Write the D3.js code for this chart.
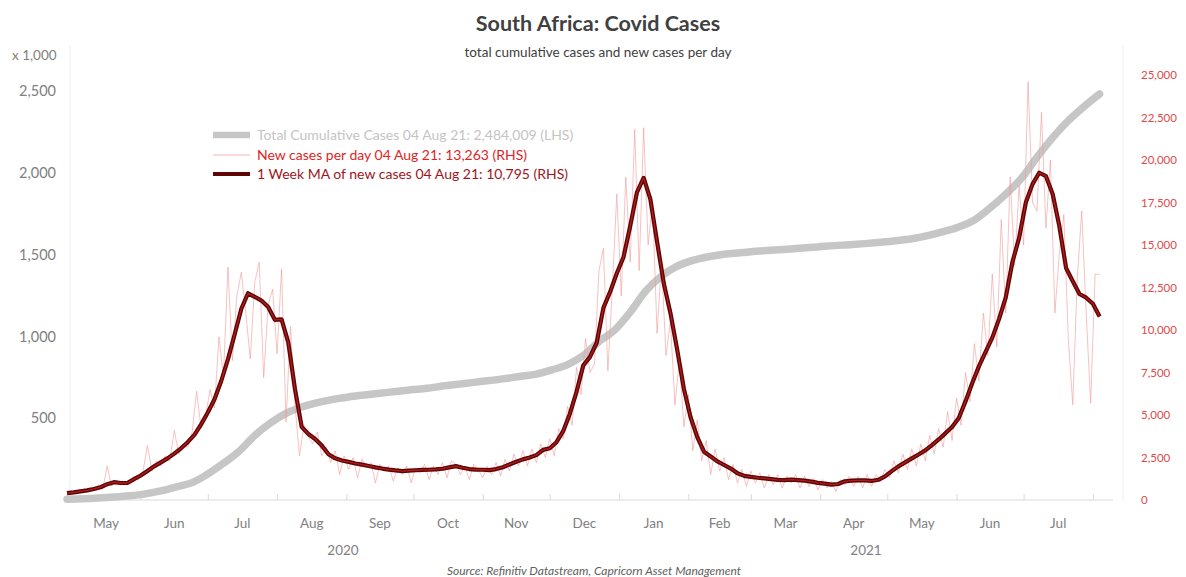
<!DOCTYPE html>
<html>
<head>
<meta charset="utf-8">
<script src="https://cdn.jsdelivr.net/npm/d3@7"></script>
<style>
  html, body { margin: 0; padding: 0; background: #ffffff; }
  svg { display: block; font-family: Lato, "Open Sans", sans-serif; }
</style>
</head>
<body>
<svg id="chart" width="1186" height="577"></svg>
<script>
// ---- data -------------------------------------------------------------
const startDate = new Date(2020, 3, 29);   // first observation
const endDate = new Date(2021, 7, 4);      // last observation

// Total cumulative cases (thousands), one value per week
const cumulativeStepDays = 7;
const cumulativeCases = [
  5.0, 7.6, 12.1, 18.0, 25.9, 37.5, 55.4, 80.4, 106.1, 159.3,
  224.7, 298.3, 394.9, 471.1, 529.9, 568.9, 596.1, 615.7, 630.5, 642.4,
  653.4, 663.3, 674.3, 683.2, 697.0, 708.4, 719.7, 730.5, 742.4, 757.1,
  769.8, 796.5, 828.6, 883.7, 968.6, 1039.2, 1149.6, 1279.3, 1369.4, 1430.2,
  1466.0, 1488.2, 1503.1, 1512.2, 1521.1, 1528.5, 1533.9, 1541.4, 1548.2, 1556.2,
  1561.6, 1568.4, 1576.5, 1586.0, 1598.2, 1617.0, 1641.6, 1670.8, 1713.4, 1786.6,
  1870.7, 1967.5, 2096.3, 2216.5, 2320.4, 2407.0, 2484.009
];

// New cases per day, sampled every second day
const newCasesStepDays = 2;
const newCases = [
  350, 480, 420, 600, 500, 700, 560, 900, 650, 2000,
  800, 1150, 900, 1100, 1000, 1400, 1200, 1700, 3200, 1700,
  2300, 2000, 2600, 2300, 4100, 2700, 3200, 3100, 4000, 6400,
  4200, 4900, 6500, 5400, 9600, 7200, 13700, 8200, 12000, 13400,
  11000, 8300, 12800, 14000, 7200, 11500, 12400, 8600, 13600, 4600,
  10200, 5600, 2600, 4400, 3700, 3300, 4000, 2600, 3100, 2200,
  2900, 1500, 2600, 1800, 2500, 1300, 2400, 1900, 2200, 1000,
  2100, 1700, 2000, 1100, 1900, 1500, 2000, 1000, 1900, 1600,
  2100, 1200, 2000, 1500, 2200, 1300, 2300, 2100, 1500, 2000,
  1200, 2100, 1800, 1300, 2000, 1500, 2200, 1400, 2400, 1700,
  2700, 2000, 2900, 2000, 3000, 2200, 3300, 2500, 3600, 2600,
  4200, 3600, 5500, 4400, 7800, 6200, 9500, 7500, 8000, 13500,
  14800, 7600, 12500, 18000, 12000, 19000, 14000, 21800, 13500, 21900,
  15000, 17500, 9800, 14000, 8500, 10500, 5600, 8200, 4300, 6200,
  2900, 4700, 2300, 3500, 1500, 3000, 1700, 2500, 1200, 2100,
  1000, 1800, 800, 1700, 1000, 1600, 700, 1500, 900, 1500,
  700, 1400, 1000, 1500, 700, 1400, 800, 1300, 600, 1200,
  700, 1100, 500, 1200, 900, 1400, 800, 1400, 700, 1500,
  800, 1500, 1100, 1800, 1300, 2300, 1600, 2700, 1800, 3000,
  2000, 3300, 2300, 3800, 2700, 4200, 3100, 5200, 3500, 6000,
  4400, 7500, 5800, 9200, 7000, 11000, 8500, 13300, 9000, 16500,
  11000, 19000, 13800, 18500, 15000, 24600, 17500, 17000, 22800, 16000,
  20000, 11000, 14500, 16800, 9500, 5600, 13000, 17000, 11000, 5700,
  13300, 13263
];

// 1 week moving average of new cases, sampled every third day
const maStepDays = 3;
const weeklyAverage = [
  400, 450, 510, 565, 650, 750, 930, 1050, 1000, 1000,
  1230, 1440, 1710, 1980, 2210, 2450, 2730, 3040, 3400, 3830,
  4450, 5150, 5930, 7000, 8270, 9740, 11250, 12160, 11950, 11730,
  11350, 10600, 10620, 9270, 6520, 4300, 3880, 3590, 3200, 2690,
  2450, 2320, 2240, 2150, 2080, 2000, 1920, 1850, 1790, 1740,
  1700, 1730, 1750, 1770, 1780, 1800, 1840, 1920, 1990, 1900,
  1820, 1790, 1780, 1760, 1820, 1930, 2090, 2250, 2390, 2500,
  2640, 2950, 3040, 3400, 4050, 5080, 6380, 7920, 8420, 9250,
  11300, 12240, 13340, 14290, 16120, 18100, 18950, 17700, 15200, 12750,
  10990, 8840, 6550, 4870, 3700, 2840, 2560, 2270, 2060, 1850,
  1570, 1420, 1360, 1310, 1270, 1230, 1180, 1170, 1200, 1170,
  1140, 1080, 1010, 960, 900, 940, 1100, 1140, 1160, 1150,
  1120, 1190, 1390, 1700, 1980, 2210, 2450, 2680, 2920, 3230,
  3560, 3920, 4300, 4820, 5800, 6870, 7860, 8720, 9550, 10640,
  11900, 14000, 15420, 17500, 18580, 19250, 19050, 18000, 16100, 13650,
  12870, 12120, 11900, 11540, 10795
];

// Axis ticks
const leftTicks = [500, 1000, 1500, 2000, 2500];
const rightTicks = [0, 2500, 5000, 7500, 10000, 12500, 15000, 17500, 20000, 22500, 25000];
const monthNames = ["Jan","Feb","Mar","Apr","May","Jun","Jul","Aug","Sep","Oct","Nov","Dec"];
const years = [2020, 2021];

// Text
const titleText = "South Africa: Covid Cases";
const subtitleText = "total cumulative cases and new cases per day";
const legendLabels = [
  "Total Cumulative Cases 04 Aug 21: 2,484,009 (LHS)",
  "New cases per day 04 Aug 21: 13,263 (RHS)",
  "1 Week MA of new cases 04 Aug 21: 10,795 (RHS)"
];
const sourceText = "Source: Refinitiv Datastream, Capricorn Asset Management";

// ---- layout -----------------------------------------------------------
const svg = d3.select("#chart");
const plotLeft = 67, plotRight = 1113, plotTop = 75, plotBottom = 500;

const x = d3.scaleTime()
  .domain([startDate, new Date(2021, 7, 10)])
  .range([plotLeft, plotRight]);
const yLeft = d3.scaleLinear().domain([0, 2600]).range([plotBottom, plotTop]);
const yRight = d3.scaleLinear().domain([0, 25000]).range([plotBottom, plotTop]);

const dateAt = step => (v, i) => ({ date: d3.timeDay.offset(startDate, i * step), value: v });
const cumData = cumulativeCases.map(dateAt(cumulativeStepDays));
const newData = newCases.map(dateAt(newCasesStepDays));
const maData = weeklyAverage.map(dateAt(maStepDays));

// ---- frame ------------------------------------------------------------
const frame = svg.append("g");
frame.append("line")
  .attr("x1", 70).attr("x2", 70).attr("y1", 45).attr("y2", plotBottom)
  .attr("stroke", "#eeeeee").attr("stroke-width", 1);
frame.append("line")
  .attr("x1", 1123).attr("x2", 1123).attr("y1", 45).attr("y2", plotBottom)
  .attr("stroke", "#eeeeee").attr("stroke-width", 1);

// x axis: month boundary ticks, labels centred within each month
const monthStarts = d3.timeMonth.range(new Date(2020, 4, 1), new Date(2021, 7, 2));
const xAxis = svg.append("g").attr("transform", `translate(0,${plotBottom})`)
  .call(d3.axisBottom(x).tickValues(monthStarts).tickSize(-6).tickFormat(""));
xAxis.select(".domain").attr("stroke", "#d9d9d9").attr("d", `M${plotLeft},0H${plotRight}`);
xAxis.selectAll(".tick line").attr("stroke", "#d9d9d9");

const monthLabelDates = d3.timeMonth.range(new Date(2020, 4, 1), new Date(2021, 7, 1));
svg.append("g").selectAll("text")
  .data(monthLabelDates)
  .join("text")
  .attr("x", d => (x(d) + x(d3.timeMonth.offset(d, 1))) / 2)
  .attr("y", 528)
  .attr("text-anchor", "middle")
  .attr("fill", "#808080")
  .attr("font-size", 13.5)
  .text(d => monthNames[d.getMonth()]);

svg.append("g").selectAll("text")
  .data(years)
  .join("text")
  .attr("x", yr => {
    const a = Math.max(x(new Date(yr, 0, 1)), plotLeft);
    const b = Math.min(x(new Date(yr + 1, 0, 1)), plotRight);
    return (a + b) / 2;
  })
  .attr("y", 555)
  .attr("text-anchor", "middle")
  .attr("fill", "#808080")
  .attr("font-size", 13.5)
  .text(d => d);

// left axis
const leftAxis = svg.append("g").attr("transform", "translate(56,0)")
  .call(d3.axisLeft(yLeft).tickValues(leftTicks).tickSize(0).tickPadding(0).tickFormat(d3.format(",")));
leftAxis.select(".domain").remove();
leftAxis.selectAll("text").attr("fill", "#808080").attr("font-size", 14.5)
  .attr("font-family", "Lato, sans-serif");
svg.append("text").attr("x", 12).attr("y", 60)
  .attr("fill", "#808080").attr("font-size", 13.5).text("x 1,000");

// right axis
const rightAxis = svg.append("g").attr("transform", "translate(1141,0)")
  .call(d3.axisRight(yRight).tickValues(rightTicks).tickSize(0).tickPadding(0).tickFormat(d3.format(",")));
rightAxis.select(".domain").remove();
rightAxis.selectAll("text").attr("fill", "#e04a4a").attr("font-size", 11.5)
  .attr("font-family", "Lato, sans-serif");

// ---- series -----------------------------------------------------------
const cumLine = d3.line().x(d => x(d.date)).y(d => yLeft(d.value)).curve(d3.curveMonotoneX);
const rightLine = d3.line().x(d => x(d.date)).y(d => yRight(d.value));

svg.append("path").datum(cumData)
  .attr("d", cumLine)
  .attr("fill", "none").attr("stroke", "#c6c6c6").attr("stroke-width", 7.5)
  .attr("stroke-linecap", "round");

svg.append("path").datum(newData)
  .attr("d", rightLine)
  .attr("fill", "none").attr("stroke", "#f29a9a").attr("stroke-width", 1)
  .attr("stroke-opacity", 0.6);

svg.append("path").datum(maData)
  .attr("d", rightLine)
  .attr("fill", "none").attr("stroke", "#5e0606").attr("stroke-width", 4.2)
  .attr("stroke-linejoin", "round");
svg.append("path").datum(maData)
  .attr("d", rightLine)
  .attr("fill", "none").attr("stroke", "#b01c1c").attr("stroke-width", 1.3)
  .attr("stroke-linejoin", "round");

// ---- legend -----------------------------------------------------------
const legend = svg.append("g").attr("font-size", 14);
const legendRows = [
  { y: 135, stroke: "#c6c6c6", width: 6.5, text: "#c4c4c4" },
  { y: 155, stroke: "#f6b4b4", width: 1, text: "#e02424" },
  { y: 174, stroke: "#5e0606", width: 4, text: "#a0141a" }
];
legendRows.forEach((r, i) => {
  legend.append("line").attr("x1", 213).attr("x2", 250).attr("y1", r.y).attr("y2", r.y)
    .attr("stroke", r.stroke).attr("stroke-width", r.width);
  legend.append("text").attr("x", 257).attr("y", r.y + 5)
    .attr("fill", r.text).text(legendLabels[i]);
});

// ---- titles -----------------------------------------------------------
svg.append("text").attr("x", 598).attr("y", 31).attr("text-anchor", "middle")
  .attr("fill", "#404040").attr("font-size", 21.5).attr("font-weight", "bold").text(titleText);
svg.append("text").attr("x", 598).attr("y", 57).attr("text-anchor", "middle")
  .attr("fill", "#404040").attr("font-size", 13.5).text(subtitleText);
svg.append("text").attr("x", 594).attr("y", 575).attr("text-anchor", "middle")
  .attr("fill", "#606060").attr("font-size", 12).attr("font-style", "italic").text(sourceText);
</script>
</body>
</html>
